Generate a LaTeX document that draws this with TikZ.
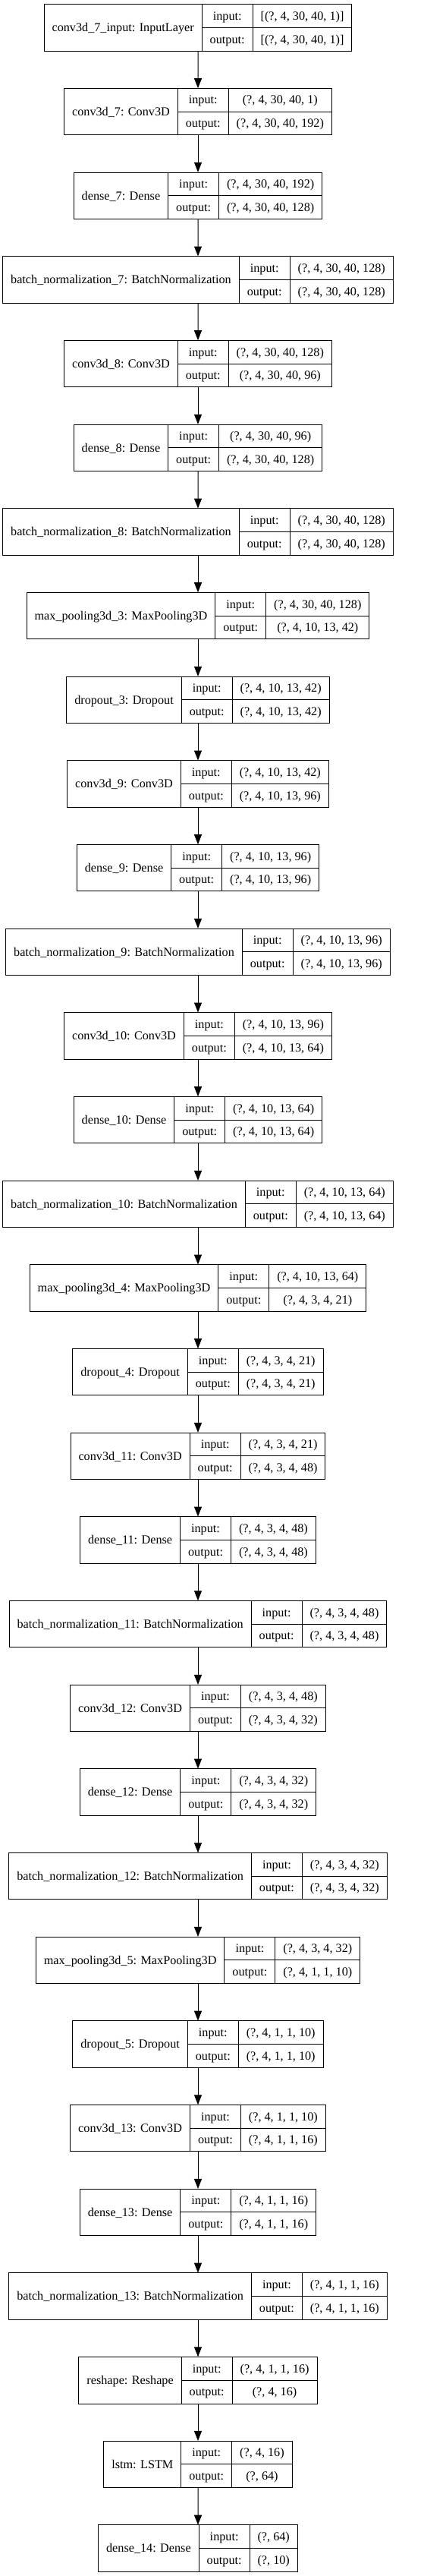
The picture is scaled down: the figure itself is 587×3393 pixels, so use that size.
\documentclass[tikz,border=0pt]{standalone}
\usepackage{fontspec}
\setmainfont{Liberation Serif}
\usepackage{tikz}
\usetikzlibrary{arrows.meta,fit,positioning}

\newlength\namew
\newlength\valw
\newlength\tmpw
\newlength\labw
\newcommand\cellfont{\fontsize{16.2}{19}\selectfont}

\tikzset{
	cell/.style={draw, line width=1pt, outer sep=0pt, inner sep=0pt,
		text height=12pt, text depth=1.5pt, font=\cellfont, anchor=north west},
	flow/.style={-{Triangle[width=10pt,length=13pt]}, line width=1pt},
}

% one keras layer: #1 number, #2 name, #3 input shape, #4 output shape
\newcommand\layer[4]{%
	\begin{pgfinterruptpicture}%
		\settowidth\namew{\cellfont #2}\global\namew=\namew
		\settowidth\valw{\cellfont #3}%
		\settowidth\tmpw{\cellfont #4}%
		\ifdim\tmpw>\valw \setlength\valw{\tmpw}\fi
		\global\valw=\valw
		\settowidth\labw{\cellfont output:}\global\labw=\labw
	\end{pgfinterruptpicture}%
	\pgfmathsetmacro\lft{261-(\namew+\labw+\valw+63)/2}%
	\pgfmathsetmacro\ytop{-5.7-110.67*(#1-1)}%
	\node[cell, minimum width=\namew+21pt, minimum height=61.5pt] (n#1) at (\lft,\ytop) {#2};
	\node[cell, minimum width=\labw+21pt, minimum height=30.75pt] (i#1) at (n#1.north east) {input:};
	\node[cell, minimum width=\labw+21pt, minimum height=30.75pt] (o#1) at (i#1.south west) {output:};
	\node[cell, minimum width=\valw+21pt, minimum height=30.75pt] (vi#1) at (i#1.north east) {#3};
	\node[cell, minimum width=\valw+21pt, minimum height=30.75pt] (vo#1) at (o#1.north east) {#4};
	\node[fit=(n#1)(vo#1), inner sep=0pt] (l#1) {};
}

\begin{document}
\begin{tikzpicture}[x=1pt, y=1pt]
	\useasboundingbox (0,0) rectangle (587,-3393);
	
	\layer{1}{conv3d\_7\_input: InputLayer}{[(?, 4, 30, 40, 1)]}{[(?, 4, 30, 40, 1)]}
	\layer{2}{conv3d\_7: Conv3D}{(?, 4, 30, 40, 1)}{(?, 4, 30, 40, 192)}
	\layer{3}{dense\_7: Dense}{(?, 4, 30, 40, 192)}{(?, 4, 30, 40, 128)}
	\layer{4}{batch\_normalization\_7: BatchNormalization}{(?, 4, 30, 40, 128)}{(?, 4, 30, 40, 128)}
	\layer{5}{conv3d\_8: Conv3D}{(?, 4, 30, 40, 128)}{(?, 4, 30, 40, 96)}
	\layer{6}{dense\_8: Dense}{(?, 4, 30, 40, 96)}{(?, 4, 30, 40, 128)}
	\layer{7}{batch\_normalization\_8: BatchNormalization}{(?, 4, 30, 40, 128)}{(?, 4, 30, 40, 128)}
	\layer{8}{max\_pooling3d\_3: MaxPooling3D}{(?, 4, 30, 40, 128)}{(?, 4, 10, 13, 42)}
	\layer{9}{dropout\_3: Dropout}{(?, 4, 10, 13, 42)}{(?, 4, 10, 13, 42)}
	\layer{10}{conv3d\_9: Conv3D}{(?, 4, 10, 13, 42)}{(?, 4, 10, 13, 96)}
	\layer{11}{dense\_9: Dense}{(?, 4, 10, 13, 96)}{(?, 4, 10, 13, 96)}
	\layer{12}{batch\_normalization\_9: BatchNormalization}{(?, 4, 10, 13, 96)}{(?, 4, 10, 13, 96)}
	\layer{13}{conv3d\_10: Conv3D}{(?, 4, 10, 13, 96)}{(?, 4, 10, 13, 64)}
	\layer{14}{dense\_10: Dense}{(?, 4, 10, 13, 64)}{(?, 4, 10, 13, 64)}
	\layer{15}{batch\_normalization\_10: BatchNormalization}{(?, 4, 10, 13, 64)}{(?, 4, 10, 13, 64)}
	\layer{16}{max\_pooling3d\_4: MaxPooling3D}{(?, 4, 10, 13, 64)}{(?, 4, 3, 4, 21)}
	\layer{17}{dropout\_4: Dropout}{(?, 4, 3, 4, 21)}{(?, 4, 3, 4, 21)}
	\layer{18}{conv3d\_11: Conv3D}{(?, 4, 3, 4, 21)}{(?, 4, 3, 4, 48)}
	\layer{19}{dense\_11: Dense}{(?, 4, 3, 4, 48)}{(?, 4, 3, 4, 48)}
	\layer{20}{batch\_normalization\_11: BatchNormalization}{(?, 4, 3, 4, 48)}{(?, 4, 3, 4, 48)}
	\layer{21}{conv3d\_12: Conv3D}{(?, 4, 3, 4, 48)}{(?, 4, 3, 4, 32)}
	\layer{22}{dense\_12: Dense}{(?, 4, 3, 4, 32)}{(?, 4, 3, 4, 32)}
	\layer{23}{batch\_normalization\_12: BatchNormalization}{(?, 4, 3, 4, 32)}{(?, 4, 3, 4, 32)}
	\layer{24}{max\_pooling3d\_5: MaxPooling3D}{(?, 4, 3, 4, 32)}{(?, 4, 1, 1, 10)}
	\layer{25}{dropout\_5: Dropout}{(?, 4, 1, 1, 10)}{(?, 4, 1, 1, 10)}
	\layer{26}{conv3d\_13: Conv3D}{(?, 4, 1, 1, 10)}{(?, 4, 1, 1, 16)}
	\layer{27}{dense\_13: Dense}{(?, 4, 1, 1, 16)}{(?, 4, 1, 1, 16)}
	\layer{28}{batch\_normalization\_13: BatchNormalization}{(?, 4, 1, 1, 16)}{(?, 4, 1, 1, 16)}
	\layer{29}{reshape: Reshape}{(?, 4, 1, 1, 16)}{(?, 4, 16)}
	\layer{30}{lstm: LSTM}{(?, 4, 16)}{(?, 64)}
	\layer{31}{dense\_14: Dense}{(?, 64)}{(?, 10)}
	
	% arrows between the layers
	\foreach \k [evaluate=\k as \p using int(\k-1)] in {2,...,31}
	\draw[flow] (l\p.south) -- (l\k.north);
\end{tikzpicture}
\end{document}
